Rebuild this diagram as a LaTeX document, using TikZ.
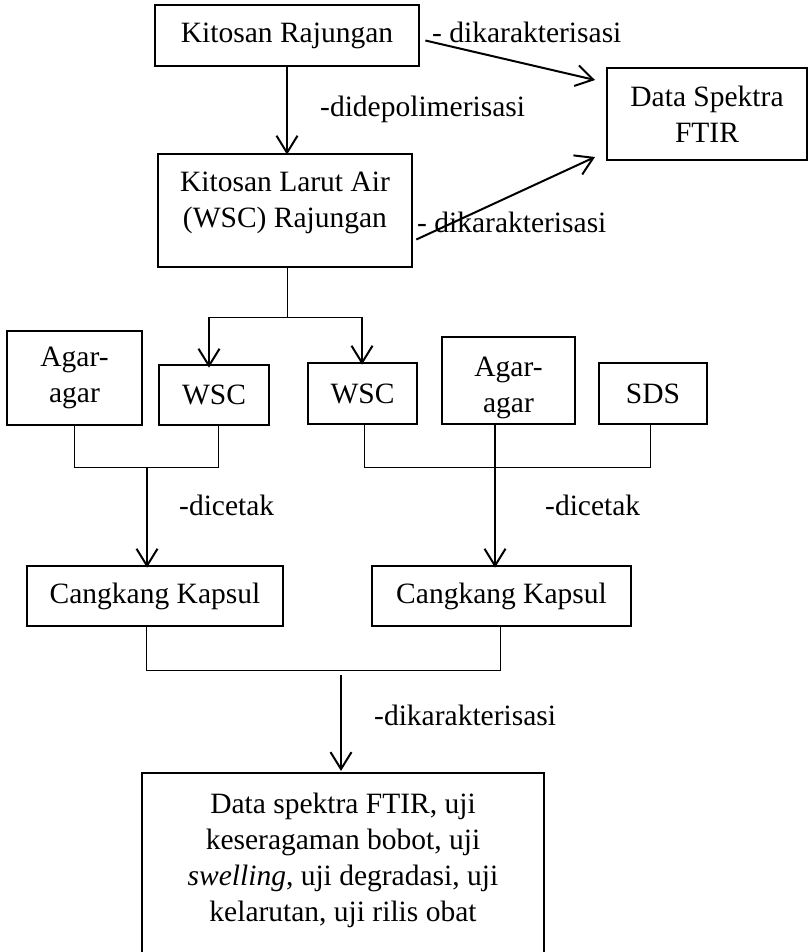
\documentclass[tikz,border=0pt]{standalone}
\usepackage{fontspec}
\setmainfont{Liberation Serif}
\usetikzlibrary{arrows.meta}
\begin{document}
\begin{tikzpicture}[x=1pt,y=-1pt,
  every node/.style={font=\fontsize{29.5}{36}\selectfont},
  box/.style={draw, line width=2.7pt, inner sep=0pt, align=center},
  txt/.style={inner sep=0pt, align=center},
  lbl/.style={inner sep=0pt, anchor=base west},
  arr/.style={line width=2pt, -{Straight Barb[length=17pt,width=21pt]}},
  thinline/.style={line width=1pt}]
\useasboundingbox (0,0) rectangle (809,952);

% boxes
\node[box, minimum width=264, minimum height=61] (k1) at (287,35.5) {Kitosan Rajungan};
\node[box, minimum width=200, minimum height=92] (ftir) at (707,114) {Data Spektra\\FTIR};
\node[box, minimum width=254, minimum height=113] (wscr) at (285,210.5) {};
\node[txt] (wscrt) at (285,203) {Kitosan Larut Air\\(WSC) Rajungan};

\node[box, minimum width=135, minimum height=94] (ag1) at (74.5,378) {Agar-\\agar};
\node[box, minimum width=110, minimum height=60] (w1) at (214,395) {WSC};
\node[box, minimum width=109, minimum height=61] (w2) at (362.5,393.5) {WSC};
\node[box, minimum width=133, minimum height=87] (ag2) at (508.5,380.5) {};
\node[txt] (ag2t) at (508.5,388) {Agar-\\agar};
\node[box, minimum width=108, minimum height=61] (sds) at (653,393.5) {SDS};

\node[box, minimum width=256, minimum height=60] (ck1) at (155,596) {Cangkang Kapsul};
\node[box, minimum width=259, minimum height=60] (ck2) at (501.5,596) {Cangkang Kapsul};

% final box (open at the bottom)
\coordinate (fl) at (142,955);
\coordinate (ftl) at (142,773);
\coordinate (ftr) at (544,773);
\coordinate (fr) at (544,955);
\coordinate (ftop) at (341,771);
\draw[line width=2.7pt] (fl) -- (ftl) -- (ftr) -- (fr);
\node[txt] (fin) at (343,860) {Data spektra FTIR, uji\\keseragaman bobot, uji\\\textit{swelling}, uji degradasi, uji\\kelarutan, uji rilis obat};

% labels
\node[lbl] (l1) at (432,43) {- dikarakterisasi};
\node[lbl] (l2) at (320,117) {-didepolimerisasi};
\node[lbl] (l3) at (417,232) {- dikarakterisasi};
\node[lbl] (l4) at (179,515) {-dicetak};
\node[lbl] (l5) at (545,515) {-dicetak};
\node[lbl] (l6) at (374,725) {-dikarakterisasi};

% top connectors
\coordinate (t1) at (595,80);
\coordinate (t2) at (595,157);
\draw[arr] ([shift={(5,5)}]k1.east) -- (t1);
\draw[arr] ([shift={(3,29)}]wscr.east) -- (t2);
\draw[arr] (k1.south -| 287,0) -- ([yshift=-2]wscr.north -| 287,0);

% split to the two WSC
\coordinate (s0) at (287,317);
\coordinate (sl) at (209,317);
\coordinate (sr) at (362,317);
\draw[thinline] (wscr.south -| s0) -- (s0);
\draw[thinline] (sl) -- (sr);
\draw[arr] (sl) -- ([yshift=-4]w1.north -| sl);
\draw[arr] (sr) -- ([yshift=-3]w2.north -| sr);

% left group
\coordinate (gl1) at (74,467);
\coordinate (gl2) at (218,467);
\coordinate (gla) at (147,467);
\draw[thinline] (ag1.south -| gl1) -- (gl1) -- (gl2) -- (w1.south -| gl2);
\draw[arr] (gla) -- ([yshift=-3]ck1.north -| gla);

% right group
\coordinate (gr1) at (364,467);
\coordinate (gr2) at (650,467);
\coordinate (gra) at (495,424);
\draw[thinline] (w2.south -| gr1) -- (gr1) -- (gr2) -- (sds.south -| gr2);
\draw[arr] (ag2.south -| gra) -- ([yshift=-3]ck2.north -| gra);

% bottom join
\coordinate (b1) at (146,670);
\coordinate (b2) at (500,670);
\coordinate (bs) at (341,675);
\draw[thinline] (ck1.south -| b1) -- (b1) -- (b2) -- (ck2.south -| b2);
\draw[arr] (bs) -- (ftop);
\end{tikzpicture}
\end{document}
